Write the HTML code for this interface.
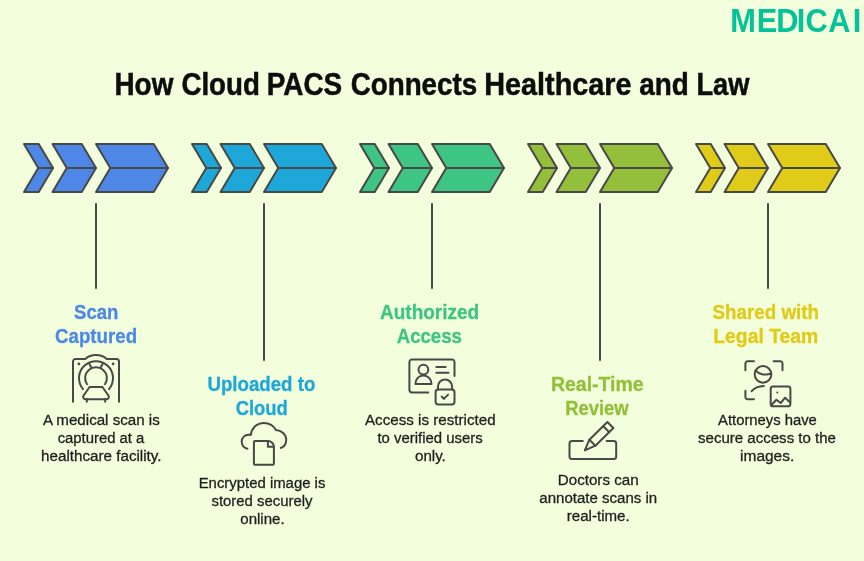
<!DOCTYPE html>
<html lang="en">
<head>
<meta charset="utf-8">
<title>How Cloud PACS Connects Healthcare and Law</title>
<style>
html,body{margin:0;padding:0;background:#f3ffdc;}
body{width:864px;height:561px;overflow:hidden;}
svg{display:block;will-change:transform;}
text{font-family:"Liberation Sans",sans-serif;}
.t{font-weight:700;font-size:20.1px;stroke-width:0.3px;}
.d{font-size:15.3px;fill:#1f1f1f;stroke:#1f1f1f;stroke-width:0.3px;}
.h{font-weight:700;font-size:31px;fill:#0d0d0d;stroke:#0d0d0d;stroke-width:0.5px;}
.logo{font-weight:700;font-size:32.7px;fill:#04c39a;}
</style>
</head>
<body>
<svg width="864" height="561" viewBox="0 0 864 561">
<rect width="864" height="561" fill="#f3ffdc"/>
<text class="logo" transform="scale(0.94 1)" x="776.8 805.1 825.8 847.7 856.9 881.2 907.1" y="31.7">MEDICAI</text>
<text class="h" y="94.7"><tspan x="114.49" textLength="58.86" lengthAdjust="spacingAndGlyphs">How</tspan> <tspan x="181.38" textLength="78.46" lengthAdjust="spacingAndGlyphs">Cloud</tspan> <tspan x="266.74" textLength="75.45" lengthAdjust="spacingAndGlyphs">PACS</tspan> <tspan x="350.63" textLength="126.63" lengthAdjust="spacingAndGlyphs">Connects</tspan> <tspan x="484.17" textLength="147.43" lengthAdjust="spacingAndGlyphs">Healthcare</tspan> <tspan x="639.21" textLength="49.58" lengthAdjust="spacingAndGlyphs">and</tspan> <tspan x="696.38" textLength="53.05" lengthAdjust="spacingAndGlyphs">Law</tspan></text>

<g fill="#4e88e7" stroke="#484848" stroke-width="2" stroke-linejoin="round"><path d="M24.00 144 L38.75 144 L53.00 168 L38.25 168 Z"/><path d="M38.25 168 L53.00 168 L38.75 192 L24.00 192 Z"/><path d="M52.50 144 L81.75 144 L96.00 168 L66.75 168 Z"/><path d="M66.75 168 L96.00 168 L81.75 192 L52.50 192 Z"/><path d="M96.00 144 L153.75 144 L168.00 168 L110.25 168 Z"/><path d="M110.25 168 L168.00 168 L153.75 192 L96.00 192 Z"/></g>
<path d="M96 203.3V288.7" stroke="#484848" stroke-width="2" fill="none"/>
<text class="t" fill="#4e88e7" stroke="#4e88e7" x="74.02" y="319" textLength="44.37" lengthAdjust="spacingAndGlyphs">Scan</text>
<text class="t" fill="#4e88e7" stroke="#4e88e7" x="54.99" y="343" textLength="82.07" lengthAdjust="spacingAndGlyphs">Captured</text>
<text class="d" x="42.88" y="425" textLength="116.89" lengthAdjust="spacingAndGlyphs">A medical scan is</text>
<text class="d" x="57.69" y="443" textLength="86.64" lengthAdjust="spacingAndGlyphs">captured at a</text>
<text class="d" x="41.11" y="461" textLength="120.42" lengthAdjust="spacingAndGlyphs">healthcare facility.</text>
<g fill="none" stroke="#484848" stroke-width="2" stroke-linecap="round" stroke-linejoin="round"><g transform="translate(72 354)">
<path d="M1 47.7V7.5a2.6 2.6 0 0 1 2.6-2.6H13.2C16 2.4 19.8 1 24 1s8 1.4 10.8 3.9h9.6A2.6 2.6 0 0 1 47 7.5V47.7"/>
<path d="M11 35.1A17 17 0 1 1 37 35.1"/>
<path d="M15 30.2A10.9 10.9 0 1 1 33 30.2"/>
<path d="M17.3 9.6l2.1 4.1M30.7 9.6l-2.1 4.1"/>
<path d="M17.6 33h12.8l5.8 8.3a2.3 2.3 0 0 1-1.9 3.9H13.7a2.3 2.3 0 0 1-1.9-3.9z"/>
<path d="M14.8 45v2.7M33.2 45v2.7"/>
<circle cx="6.9" cy="9.9" r="1.4" fill="#484848" stroke="none"/><circle cx="41.1" cy="9.9" r="1.4" fill="#484848" stroke="none"/>
</g></g>
<g fill="#1ea8d9" stroke="#484848" stroke-width="2" stroke-linejoin="round"><path d="M192.00 144 L206.75 144 L221.00 168 L206.25 168 Z"/><path d="M206.25 168 L221.00 168 L206.75 192 L192.00 192 Z"/><path d="M220.50 144 L249.75 144 L264.00 168 L234.75 168 Z"/><path d="M234.75 168 L264.00 168 L249.75 192 L220.50 192 Z"/><path d="M264.00 144 L321.75 144 L336.00 168 L278.25 168 Z"/><path d="M278.25 168 L336.00 168 L321.75 192 L264.00 192 Z"/></g>
<path d="M264 203.3V360.7" stroke="#484848" stroke-width="2" fill="none"/>
<text class="t" fill="#1ea8d9" stroke="#1ea8d9" x="207.44" y="391" textLength="107.86" lengthAdjust="spacingAndGlyphs">Uploaded to</text>
<text class="t" fill="#1ea8d9" stroke="#1ea8d9" x="235.66" y="415" textLength="52.17" lengthAdjust="spacingAndGlyphs">Cloud</text>
<text class="d" x="198.68" y="488" textLength="126.7" lengthAdjust="spacingAndGlyphs">Encrypted image is</text>
<text class="d" x="211.51" y="506" textLength="101.0" lengthAdjust="spacingAndGlyphs">stored securely</text>
<text class="d" x="240.29" y="524" textLength="44.33" lengthAdjust="spacingAndGlyphs">online.</text>
<g fill="none" stroke="#484848" stroke-width="2" stroke-linecap="round" stroke-linejoin="round"><g transform="translate(240 420)">
<path d="M7.4 28.8C3.8 27.9 1.7 25 1.7 21.6c0-4 3.2-7 7.3-6.8l1.8 0.1C11.600 8.100 17.100 2.900 23.900 2.900c5.400 0 10 3.100 12 7.100c5.600 0.300 10.300 4.300 10.300 9.900c0 4.100-2.300 6.900-5.400 8.100"/>
<path d="M14.900 21h13a6 5.700 0 0 1 6 5.700v17.100a1 1 0 0 1-1 1h-18a1 1 0 0 1-1-1v-21.800a1 1 0 0 1 1-1z"/>
<path d="M27.900 21v5.700h6"/>
</g></g>
<g fill="#3ec583" stroke="#484848" stroke-width="2" stroke-linejoin="round"><path d="M360.00 144 L374.75 144 L389.00 168 L374.25 168 Z"/><path d="M374.25 168 L389.00 168 L374.75 192 L360.00 192 Z"/><path d="M388.50 144 L417.75 144 L432.00 168 L402.75 168 Z"/><path d="M402.75 168 L432.00 168 L417.75 192 L388.50 192 Z"/><path d="M432.00 144 L489.75 144 L504.00 168 L446.25 168 Z"/><path d="M446.25 168 L504.00 168 L489.75 192 L432.00 192 Z"/></g>
<path d="M432 203.3V288.7" stroke="#484848" stroke-width="2" fill="none"/>
<text class="t" fill="#3ec583" stroke="#3ec583" x="380.08" y="319" textLength="99.08" lengthAdjust="spacingAndGlyphs">Authorized</text>
<text class="t" fill="#3ec583" stroke="#3ec583" x="396.74" y="343" textLength="65.19" lengthAdjust="spacingAndGlyphs">Access</text>
<text class="d" x="364.98" y="425" textLength="130.64" lengthAdjust="spacingAndGlyphs">Access is restricted</text>
<text class="d" x="377.46" y="443" textLength="105.34" lengthAdjust="spacingAndGlyphs">to verified users</text>
<text class="d" x="414.98" y="461" textLength="30.83" lengthAdjust="spacingAndGlyphs">only.</text>
<g fill="none" stroke="#484848" stroke-width="2" stroke-linecap="round" stroke-linejoin="round"><g transform="translate(408 358)">
<path d="M20.300 34.400H4a2.600 2.600 0 0 1-2.600-2.600V4a2.600 2.600 0 0 1 2.600-2.600H43.900a2.600 2.600 0 0 1 2.600 2.600V18"/>
<circle cx="15.400" cy="11.600" r="4.900"/>
<path d="M7.400 25.900a8.050 8.500 0 0 1 16.100 0z"/>
<path d="M28.300 9.100h9.300M28.300 14.800h12.200"/>
<rect x="27.600" y="31.500" width="18.900" height="14.900" rx="2.600"/>
<path d="M30 31.400v-3a7.050 6.900 0 0 1 14.100 0v3"/>
<path d="M33.700 38.600l2.100 2.300l4.300-4.300"/>
</g></g>
<g fill="#93bf3a" stroke="#484848" stroke-width="2" stroke-linejoin="round"><path d="M528.00 144 L542.75 144 L557.00 168 L542.25 168 Z"/><path d="M542.25 168 L557.00 168 L542.75 192 L528.00 192 Z"/><path d="M556.50 144 L585.75 144 L600.00 168 L570.75 168 Z"/><path d="M570.75 168 L600.00 168 L585.75 192 L556.50 192 Z"/><path d="M600.00 144 L657.75 144 L672.00 168 L614.25 168 Z"/><path d="M614.25 168 L672.00 168 L657.75 192 L600.00 192 Z"/></g>
<path d="M600 203.3V360.7" stroke="#484848" stroke-width="2" fill="none"/>
<text class="t" fill="#93bf3a" stroke="#93bf3a" x="550.97" y="391" textLength="92.66" lengthAdjust="spacingAndGlyphs">Real-Time</text>
<text class="t" fill="#93bf3a" stroke="#93bf3a" x="565.14" y="415" textLength="63.58" lengthAdjust="spacingAndGlyphs">Review</text>
<text class="d" x="557.81" y="485.2" textLength="80.78" lengthAdjust="spacingAndGlyphs">Doctors can</text>
<text class="d" x="539.29" y="503.2" textLength="117.95" lengthAdjust="spacingAndGlyphs">annotate scans in</text>
<text class="d" x="566.81" y="521.2" textLength="62.85" lengthAdjust="spacingAndGlyphs">real-time.</text>
<g fill="none" stroke="#484848" stroke-width="2" stroke-linecap="round" stroke-linejoin="round"><g transform="translate(568 414)">
<path d="M14.800 27H4a2.500 2.500 0 0 0-2.500 2.500V42.600a2.500 2.500 0 0 0 2.500 2.500H45.700a2.500 2.500 0 0 0 2.500-2.500V29.500a2.500 2.500 0 0 0-2.500-2.500H38.600"/>
<path d="M16.800 36.300l4.600-10.600L39.400 8l6 6L27.400 31.700z"/>
<path d="M21.400 25.700l6 6M35.300 12.200l6 6"/>
</g></g>
<g fill="#e0cb18" stroke="#484848" stroke-width="2" stroke-linejoin="round"><path d="M696.00 144 L710.75 144 L725.00 168 L710.25 168 Z"/><path d="M710.25 168 L725.00 168 L710.75 192 L696.00 192 Z"/><path d="M724.50 144 L753.75 144 L768.00 168 L738.75 168 Z"/><path d="M738.75 168 L768.00 168 L753.75 192 L724.50 192 Z"/><path d="M768.00 144 L825.75 144 L840.00 168 L782.25 168 Z"/><path d="M782.25 168 L840.00 168 L825.75 192 L768.00 192 Z"/></g>
<path d="M768 203.3V288.7" stroke="#484848" stroke-width="2" fill="none"/>
<text class="t" fill="#e0cb18" stroke="#e0cb18" x="712.42" y="319" textLength="106.59" lengthAdjust="spacingAndGlyphs">Shared with</text>
<text class="t" fill="#e0cb18" stroke="#e0cb18" x="713.28" y="343" textLength="105.0" lengthAdjust="spacingAndGlyphs">Legal Team</text>
<text class="d" x="718.04" y="425" textLength="98.82" lengthAdjust="spacingAndGlyphs">Attorneys have</text>
<text class="d" x="698.01" y="443" textLength="137.97" lengthAdjust="spacingAndGlyphs">secure access to the</text>
<text class="d" x="740.09" y="461" textLength="54.17" lengthAdjust="spacingAndGlyphs">images.</text>
<g fill="none" stroke="#484848" stroke-width="2" stroke-linecap="round" stroke-linejoin="round"><g transform="translate(744 360)">
<path d="M1.400 10.300V3.400a2.200 2.200 0 0 1 2.200-2.200H10M29.600 1.200H36.300a2.200 2.200 0 0 1 2.200 2.200V10.300M1.400 30.800v6.300a2.200 2.200 0 0 0 2.200 2.200H10"/>
<circle cx="19" cy="14.400" r="8.300"/>
<path d="M11.600 10.400c2.700 3.400 9.200 5.600 15.600 3.100"/>
<path d="M7.700 31.100c2.400-3 6.600-5 12.200-5.200"/>
<rect x="26.700" y="26.500" width="19.700" height="19.800" rx="2.400"/>
<path d="M27.200 45.300l5.200-5.600l4.300 3.300l4.400-5.300l5.100 4.700"/>
<circle cx="33.300" cy="32.400" r="1" fill="#484848" stroke="none"/>
</g></g>
</svg>
</body>
</html>
